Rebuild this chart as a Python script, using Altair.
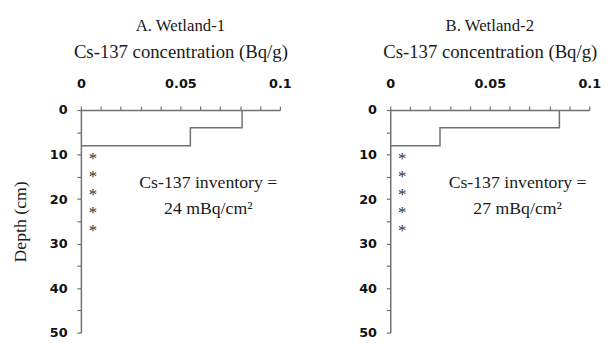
import altair as alt
import pandas as pd

# ---- data ----
panel_titles = ["A. Wetland-1", "B. Wetland-2"]
layer_top = [0, 4]              # cm
layer_bottom = [4, 8]           # cm
conc_wetland1 = [0.081, 0.055]  # Bq/g
conc_wetland2 = [0.085, 0.025]  # Bq/g
inventory = [24, 27]            # mBq/cm2
bdl_depth = [10, 14, 18, 22, 26]  # below-detection samples (asterisks)
bdl_conc = [0.006, 0.006, 0.006, 0.006, 0.006]
x_tick_values = [0, 0.01, 0.02, 0.03, 0.04, 0.05, 0.06, 0.07, 0.08, 0.09, 0.1]
y_tick_values = [0, 5, 10, 15, 20, 25, 30, 35, 40, 45, 50]
label_x = [0.064]
label_depth = [16.4]

GRAY = "#707070"
SERIF = "Liberation Serif"


def panel(title, conc, inv, show_y_title):
    pts_c, pts_d = [], []
    for c, t, b in zip(conc, layer_top, layer_bottom):
        pts_c += [c, c]
        pts_d += [t, b]
    pts_c.append(0.0)
    pts_d.append(layer_bottom[-1])
    step = pd.DataFrame({"conc": pts_c, "depth": pts_d, "order": list(range(len(pts_c)))})
    stars = pd.DataFrame({"conc": bdl_conc, "depth": bdl_depth})
    lab = pd.DataFrame({"conc": label_x, "depth": label_depth})

    x = alt.X(
        "conc:Q",
        scale=alt.Scale(domain=[0, 0.1], nice=False, zero=False),
        axis=alt.Axis(
            orient="top",
            title="Cs-137 concentration (Bq/g)",
            titleFontSize=19,
            values=x_tick_values,
            tickCount=len(x_tick_values) + 5,
            format="~g",
            labelExpr="abs(datum.value * 20 - round(datum.value * 20)) < 0.001 ? datum.label : ''",
            labelOverlap=False,
            labelFlush=False,
            labelPadding=16,
            titlePadding=16,
        ),
    )
    y = alt.Y(
        "depth:Q",
        scale=alt.Scale(domain=[0, 50], reverse=True, nice=False),
        axis=alt.Axis(
            title="Depth (cm)" if show_y_title else None,
            titleFontSize=18,
            values=y_tick_values,
            tickCount=len(y_tick_values) + 5,
            labelExpr="datum.value % 10 == 0 ? datum.label : ''",
            labelOverlap=False,
            labelFlush=False,
            labelPadding=10,
            titlePadding=20,
        ),
    )

    line = alt.Chart(step).mark_line(color=GRAY, strokeWidth=1.5).encode(x=x, y=y, order="order:Q")
    star = alt.Chart(stars).mark_text(
        text="*", font=SERIF, fontSize=17, color="#333", baseline="middle", dy=5
    ).encode(x="conc:Q", y="depth:Q")
    txt = alt.Chart(lab).mark_text(
        text=["Cs-137 inventory =", f"{inv} mBq/cm\u00b2"],
        font=SERIF, fontSize=18, lineHeight=26, color="#1a1a1a", baseline="middle",
    ).encode(x="conc:Q", y="depth:Q")

    return alt.layer(line, star, txt).properties(
        width=202,
        height=226,
        title=alt.TitleParams(
            text=title, font=SERIF, fontSize=17, fontWeight="normal",
            anchor="middle", frame="group", offset=8, color="#1a1a1a",
        ),
    )


chart = alt.hconcat(
    panel(panel_titles[0], conc_wetland1, inventory[0], True),
    panel(panel_titles[1], conc_wetland2, inventory[1], False),
    spacing=67,
).properties(
    padding={"left": 3, "top": 7, "right": 5, "bottom": 5}
).configure_view(stroke=None).configure_axis(
    grid=False,
    domainColor=GRAY,
    domainWidth=1.5,
    tickColor=GRAY,
    tickWidth=1.2,
    tickSize=4,
    labelFont="DejaVu Sans",
    labelFontWeight="bold",
    labelFontSize=13,
    labelColor="#111",
    titleFont=SERIF,
    titleFontWeight="normal",
    titleFontSize=17,
    titleColor="#1a1a1a",
)

chart.save("out.html", embed_options={"renderer": "svg", "actions": False})
